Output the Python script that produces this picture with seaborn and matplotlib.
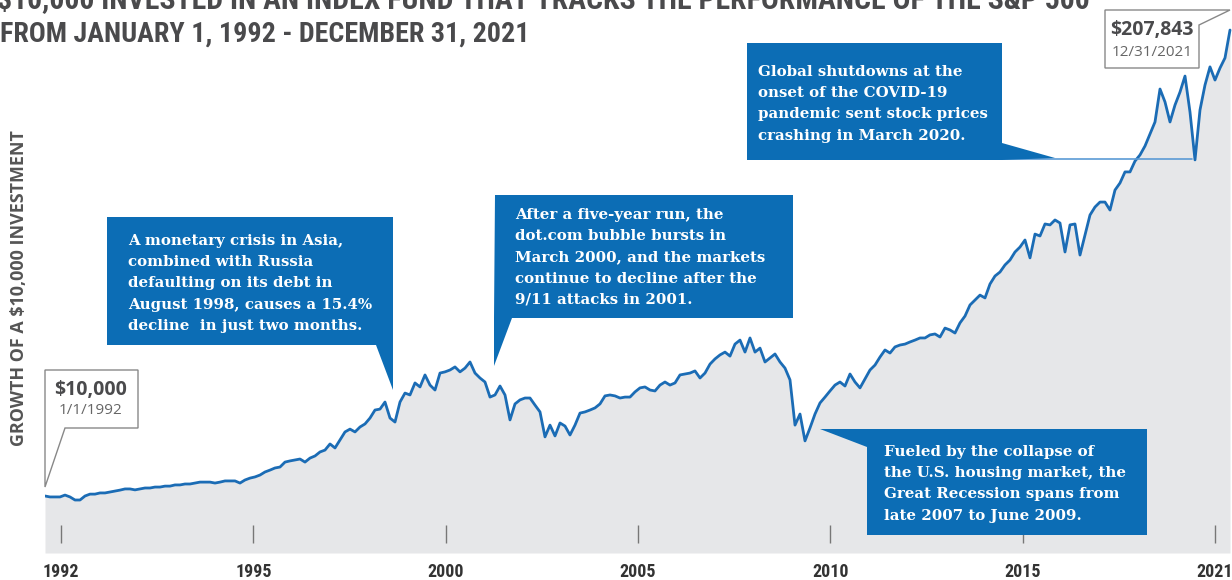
"""
Growth of $10,000 invested in an S&P 500 index fund, 1992-2021.
Blue line over a grey area, with speech-bubble callouts for the big drawdowns.
"""

import numpy as np
import pandas as pd
import seaborn as sns
import matplotlib.pyplot as plt
from matplotlib import font_manager as fm
from matplotlib.patches import Polygon
from matplotlib.transforms import blended_transform_factory

# value of the investment (thousand $) at evenly spaced steps
growth_k = [
    10.0, 9.6, 9.6, 9.6, 10.4, 9.6, 8.3, 8.3, 10.0, 10.8,
    10.8, 11.3, 11.3, 11.7, 12.1, 12.5, 13.0, 13.0, 12.6, 13.0,
    13.4, 13.4, 13.8, 13.8, 14.2, 14.2, 14.7, 14.7, 15.1, 15.1,
    15.5, 15.9, 15.9, 15.9, 15.5, 15.9, 16.4, 16.4, 16.4, 15.5,
    16.8, 17.6, 18.1, 18.9, 20.2, 21.0, 21.9, 22.3, 24.4, 24.9,
    25.3, 25.7, 24.4, 26.1, 27.0, 28.7, 29.5, 32.1, 30.4, 33.8,
    37.2, 38.4, 37.2, 39.3, 40.6, 43.1, 46.5, 46.9, 49.9, 43.1,
    41.4, 49.9, 53.7, 52.9, 58.0, 56.3, 61.4, 57.1, 55.0, 62.2,
    62.7, 63.5, 64.8, 62.7, 64.3, 66.9, 62.2, 60.1, 58.4, 52.0,
    52.9, 56.7, 52.9, 42.3, 49.1, 50.8, 51.6, 51.6, 48.6, 45.7,
    35.1, 40.1, 35.5, 41.0, 39.7, 35.9, 40.1, 45.2, 45.7, 46.5,
    47.4, 49.1, 52.5, 52.9, 52.5, 51.6, 52.0, 52.0, 54.2, 55.9,
    56.3, 55.0, 54.6, 57.1, 58.4, 57.1, 58.0, 61.4, 61.8, 62.2,
    63.1, 60.1, 62.2, 66.0, 68.2, 69.9, 71.1, 69.4, 74.5, 76.2,
    71.1, 77.1, 71.1, 72.8, 66.9, 68.6, 70.3, 66.9, 64.3, 59.3,
    40.1, 44.8, 33.4, 38.9, 44.8, 49.5, 52.0, 54.6, 57.1, 58.4,
    56.7, 61.8, 58.4, 55.9, 59.7, 63.5, 65.6, 69.0, 72.0, 70.7,
    73.3, 74.1, 74.5, 75.4, 76.2, 77.1, 77.1, 78.4, 78.8, 77.5,
    81.3, 80.5, 79.2, 83.5, 86.4, 91.1, 93.2, 95.3, 94.1, 100.0,
    103.4, 105.1, 108.1, 110.2, 113.6, 115.7, 118.7, 111.1, 121.2, 120.4,
    125.5, 125.1, 127.2, 125.9, 113.6, 125.1, 125.5, 112.3, 120.8, 129.3,
    132.7, 134.8, 134.8, 131.4, 139.9, 142.9, 147.6, 147.6, 152.2, 154.8,
    158.6, 163.7, 168.8, 182.8, 177.3, 168.8, 176.0, 181.5, 188.3, 173.0,
    152.7, 173.9, 184.5, 192.2, 186.6, 191.7, 196.0, 207.843,
]

year_labels = ['1992', '1995', '2000', '2005', '2010', '2015', '2021']

start_value, start_date = '$10,000', '1/1/1992'
end_value, end_date = '$207,843', '12/31/2021'

title_lines = [
    '$10,000 INVESTED IN AN INDEX FUND THAT TRACKS THE PERFORMANCE OF THE S&P 500',
    'FROM JANUARY 1, 1992 - DECEMBER 31, 2021',
]
y_title = 'GROWTH OF A $10,000 INVESTMENT'

note_asia = ['A monetary crisis in Asia,', 'combined with Russia',
             'defaulting on its debt in', 'August 1998, causes a 15.4%',
             'decline  in just two months.']
note_dotcom = ['After a five-year run, the', 'dot.com bubble bursts in',
               'March 2000, and the markets', 'continue to decline after the',
               '9/11 attacks in 2001.']
note_covid = ['Global shutdowns at the', 'onset of the COVID-19',
              'pandemic sent stock prices', 'crashing in March 2020.']
note_recession = ['Fueled by the collapse of', 'the U.S. housing market, the',
                  'Great Recession spans from', 'late 2007 to June 2009.']

LINE = '#1b6cb5'
AREA = '#e6e7e9'
BOX = '#0c6db5'
INK = '#4a4a4c'

W, H = 1232, 580


def narrow_font():
    """pick a condensed sans if one is installed"""
    names = {f.name for f in fm.fontManager.ttflist}
    for cand in ['Liberation Sans Narrow', 'Roboto Condensed', 'Open Sans Condensed',
                 'Noto Sans Condensed', 'DejaVu Sans Condensed', 'Arial Narrow']:
        if cand in names:
            return cand, 'normal'
    for f in fm.fontManager.ttflist:
        if str(f.stretch) in ('condensed', 'semi-condensed', 'extra-condensed'):
            return f.name, f.stretch
    return 'DejaVu Sans', 'normal'


NARROW, STRETCH = narrow_font()

sns.set_theme(style='white')
plt.rcParams['font.family'] = [NARROW, 'DejaVu Sans']

df = pd.DataFrame({'step': np.arange(len(growth_k)),
                   'value': np.array(growth_k) * 1000})

fig = plt.figure(figsize=(W / 100, H / 100), dpi=100)
ax = fig.add_axes([45 / W, (H - 553) / H, (W - 45) / W, 533 / H])

y_low, y_high = -14200, 212100
ax.fill_between(df['step'], df['value'], y_low, color=AREA, lw=0)
sns.lineplot(data=df, x='step', y='value', ax=ax, color=LINE, linewidth=2.0)

ax.set_xlim(0, len(df) - 0.6)
ax.set_ylim(y_low, y_high)
for s in ax.spines.values():
    s.set_visible(False)
ax.set_xlabel('')
ax.set_ylabel('')
ax.set_yticks([])

ticks = np.linspace(3.2, 234, len(year_labels))
ax.set_xticks(ticks, year_labels)
ax.tick_params(axis='x', length=0, pad=7)
for lab in ax.get_xticklabels():
    lab.set_fontweight('bold')
    lab.set_fontsize(13)
    lab.set_fontstretch(STRETCH)
    lab.set_color('#333333')
tr = blended_transform_factory(ax.transData, ax.transAxes)
ax.vlines(ticks, 0.019, 0.053, transform=tr, color='#777777', lw=1)


def px(x, y):
    """figure pixel (from top-left) -> figure fraction"""
    return (x / W, 1 - y / H)


def bubble(pts, face, edge=None, lw=0):
    poly = Polygon([px(*p) for p in pts], closed=True, transform=fig.transFigure,
                   facecolor=face, edgecolor=edge if edge else face, lw=lw,
                   zorder=5, clip_on=False)
    fig.add_artist(poly)


renderer = fig.canvas.get_renderer()


def fit(t, length, vertical=False):
    """scale a text's font size so it spans `length` pixels"""
    bb = t.get_window_extent(renderer)
    cur = bb.height if vertical else bb.width
    t.set_fontsize(t.get_fontsize() * length / cur)
    return t


def note(lines, x, y0, step=21.2):
    for i, t in enumerate(lines):
        fig.text(*px(x, y0 + i * step), t, color='white', fontsize=10.8,
                 fontweight='bold', family='DejaVu Serif', va='center',
                 ha='left', zorder=6)


# titles
t1 = fig.text(*px(-3, 8), title_lines[0], fontsize=18, fontweight='bold',
              fontstretch=STRETCH, color=INK, va='baseline', ha='left')
fit(t1, 1091)
t2 = fig.text(*px(0, 42), title_lines[1], fontsize=18, fontweight='bold',
              fontstretch=STRETCH, color=INK, va='baseline', ha='left')
fit(t2, 528)
yt = fig.text(*px(19, 288), y_title, rotation=90, fontsize=12, fontweight='bold',
              family='Open Sans', color='#555555', va='center', ha='center')
fit(yt, 315, vertical=True)

# start / end value callouts
bubble([(45, 370), (138, 370), (138, 428), (65, 428), (45, 487)], 'white', '#888888', 1)
fig.text(*px(91, 390), start_value, fontsize=14, fontweight='bold',
         family='Open Sans', color=INK, ha='center', va='center', zorder=6)
fig.text(*px(91, 411), start_date, fontsize=11, family='Open Sans',
         color='#666666', ha='center', va='center', zorder=6)

bubble([(1105, 10), (1230, 10), (1199, 25), (1199, 68), (1105, 68)], 'white', '#888888', 1)
fig.text(*px(1152, 30), end_value, fontsize=14, fontweight='bold',
         family='Open Sans', color=INK, ha='center', va='center', zorder=6)
fig.text(*px(1152, 52), end_date, fontsize=11, family='Open Sans',
         color='#666666', ha='center', va='center', zorder=6)

# event callouts
bubble([(107, 217), (393, 217), (393, 390), (376, 345), (107, 345)], BOX)
note(note_asia, 128, 241)

bubble([(495, 195), (793, 195), (793, 318), (512, 318), (494, 366), (494, 318)], BOX)
note(note_dotcom, 515, 215)

bubble([(747, 43), (1002, 43), (1002, 143), (1055, 158), (1002, 160), (747, 160)], BOX)
fig.add_artist(plt.Line2D([1002 / W, 1192 / W], [1 - 159 / H] * 2,
                          transform=fig.transFigure, color='#5b9bd5', lw=1.2, zorder=4))
note(note_covid, 758, 72)

bubble([(820, 429), (1147, 429), (1147, 535), (867, 535), (867, 447)], BOX)
note(note_recession, 884, 452)

plt.savefig('out.png', dpi=100)
plt.close()
